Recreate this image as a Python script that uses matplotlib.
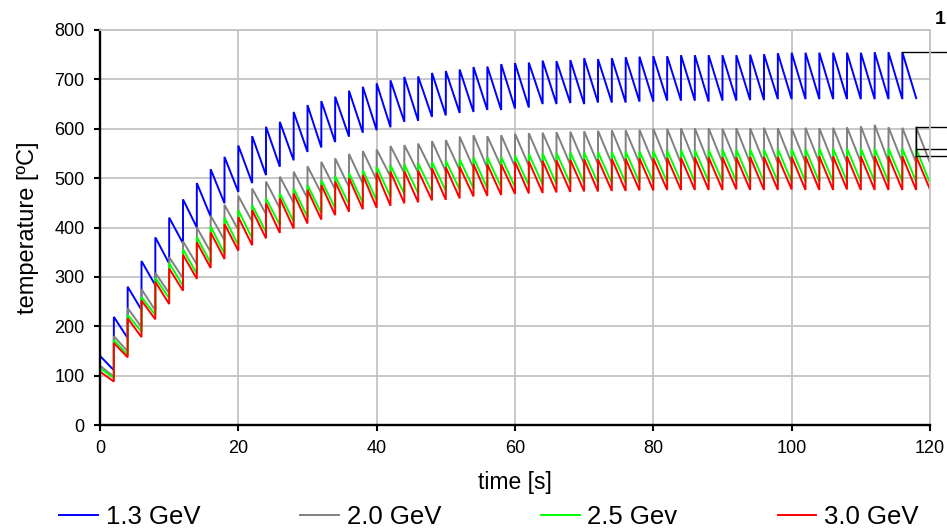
import numpy as np
import matplotlib
matplotlib.use('Agg')
import matplotlib.pyplot as plt

plt.rcParams['font.family'] = ['Liberation Sans', 'DejaVu Sans']

# ---------------- data ----------------
labels = ['1.3 GeV', '2.0 GeV', '2.5 Gev', '3.0 GeV']
colors = ['#0000FF', '#808080', '#00FF00', '#FF0000']

pulse_period = 2.0      # s between beam pulses
start_temp = 25         # °C at t = 0

# peak temperature right after each pulse (t = 0, 2, 4, ...)
blue_peaks = [140, 219, 280, 332, 380, 420, 457, 490, 518, 543,
              566, 585, 604, 614, 634, 648, 656, 665, 677, 685,
              692, 698, 705, 706, 713, 717, 720, 725, 726, 731,
              733, 734, 738, 737, 739, 743, 741, 743, 745, 746,
              747, 747, 749, 749, 749, 749, 749, 750, 751, 753,
              754, 754, 754, 754, 754, 754, 755, 755, 755]
# temperature just before the next pulse
blue_troughs = [111, 176, 233, 283, 327, 368, 400, 422, 449, 472,
                490, 506, 523, 536, 553, 562, 573, 584, 592, 597,
                603, 614, 616, 624, 627, 632, 634, 638, 638, 641,
                643, 650, 650, 652, 650, 653, 653, 653, 655, 655,
                657, 657, 657, 655, 657, 657, 658, 658, 660, 660,
                660, 660, 660, 660, 660, 660, 660, 660, 662]

gray_peaks = [120, 180, 237, 275, 308, 340, 372, 400, 424, 446,
              464, 479, 493, 503, 513, 524, 533, 540, 549, 555,
              558, 565, 567, 570, 575, 577, 584, 587, 585, 587,
              590, 591, 592, 593, 594, 595, 596, 597, 597, 598,
              600, 600, 601, 601, 601, 600, 601, 601, 602, 601,
              601, 602, 601, 602, 603, 605, 608, 603, 602, 603]
gray_troughs = [98, 149, 198, 232, 267, 297, 325, 350, 374, 395,
                412, 427, 439, 450, 459, 469, 477, 482, 489, 496,
                503, 510, 511, 513, 513, 516, 520, 520, 523, 523,
                525, 526, 527, 527, 528, 528, 529, 529, 530, 530,
                530, 530, 531, 530, 531, 531, 530, 531, 531, 530,
                531, 531, 530, 531, 532, 532, 533, 532, 531, 531]

green_peaks = [115, 172, 223, 259, 298, 328, 356, 381, 402, 420,
               435, 445, 459, 469, 479, 486, 496, 504, 510, 516,
               523, 526, 528, 530, 533, 535, 538, 542, 542, 543,
               546, 549, 550, 551, 552, 552, 553, 553, 554, 554,
               555, 556, 557, 557, 557, 558, 558, 558, 558, 559,
               559, 559, 560, 560, 560, 560, 560, 560, 560, 560]
green_troughs = [95, 142, 189, 223, 257, 282, 306, 328, 347, 364,
                 378, 391, 405, 412, 421, 429, 439, 447, 450, 455,
                 462, 468, 469, 472, 474, 477, 479, 479, 482, 482,
                 485, 487, 488, 489, 490, 490, 490, 491, 491, 492,
                 492, 492, 492, 493, 493, 493, 492, 493, 493, 493,
                 493, 492, 493, 493, 493, 493, 492, 493, 493, 490]

red_peaks = [108, 166, 216, 252, 290, 317, 345, 370, 390, 407,
             421, 435, 449, 459, 469, 476, 486, 493, 500, 506,
             511, 513, 514, 515, 520, 522, 523, 528, 528, 528,
             533, 534, 535, 536, 537, 538, 538, 539, 539, 540,
             540, 541, 541, 542, 542, 542, 542, 543, 543, 543,
             543, 544, 544, 544, 544, 544, 544, 544, 544, 544]
red_troughs = [88, 137, 178, 214, 245, 272, 296, 318, 336, 353,
               364, 378, 389, 398, 408, 416, 425, 432, 437, 440,
               444, 449, 451, 455, 456, 459, 463, 464, 466, 468,
               469, 470, 471, 472, 473, 473, 474, 474, 475, 475,
               476, 476, 476, 476, 476, 477, 476, 476, 476, 477,
               476, 476, 476, 477, 476, 476, 476, 476, 476, 477]

x_ticks = [0, 20, 40, 60, 80, 100, 120]
y_ticks = [0, 100, 200, 300, 400, 500, 600, 700, 800]

series = [(blue_peaks, blue_troughs), (gray_peaks, gray_troughs),
          (green_peaks, green_troughs), (red_peaks, red_troughs)]


def sawtooth(peaks, troughs):
    t = [0.0]
    y = [start_temp]
    for k, (p, tr) in enumerate(zip(peaks, troughs)):
        t0 = k * pulse_period
        t += [t0, t0 + pulse_period]
        y += [p, tr]
    return np.array(t), np.array(y)


# ---------------- figure ----------------
fig = plt.figure(figsize=(9.47, 5.29), dpi=100)
ax = fig.add_axes([100 / 947, 1 - 425 / 529, 830 / 947, 395 / 529])

lines = []
for (pk, tr), lab, col in zip(series, labels, colors):
    t, y = sawtooth(pk, tr)
    ln, = ax.plot(t, y, color=col, lw=1.4, label=lab, solid_joinstyle='miter')
    lines.append(ln)

ax.set_xlim(0, 120)
ax.set_ylim(0, 800)
ax.set_xticks(x_ticks)
ax.set_yticks(y_ticks)
ax.grid(True, color='#C4C4C4', lw=1.3)
ax.set_axisbelow(True)
for s in ['top', 'right']:
    ax.spines[s].set_color('#C4C4C4')
    ax.spines[s].set_linewidth(1.3)
for s in ['left', 'bottom']:
    ax.spines[s].set_color('black')
    ax.spines[s].set_linewidth(1.7)
ax.tick_params(direction='out', length=4, width=1.5, color='black',
               labelsize=13, pad=7)

ax.set_xlabel('time [s]', fontsize=16.5, labelpad=10)
ax.set_ylabel('temperature [ºC]', fontsize=17, labelpad=11)

# leader lines to the (cut-off) labels on the right
t_end_blue = (len(blue_peaks) - 1) * pulse_period
t_end = (len(gray_peaks) - 1) * pulse_period
ax.plot([t_end_blue, 123], [blue_peaks[-1], blue_peaks[-1]], color='black',
        lw=1.0, clip_on=False)
for pk in (gray_peaks, green_peaks, red_peaks):
    ax.plot([t_end, 123], [pk[-1], pk[-1]], color='black', lw=1.0, clip_on=False)
ax.plot([t_end, t_end], [red_peaks[-1], gray_peaks[-1]], color='black', lw=1.0,
        clip_on=False)
fig.text(935 / 947, 1 - 20 / 529, '1', fontsize=14, fontweight='bold',
         ha='left', va='center')

fig.legend(handles=lines, labels=labels, loc='center', ncol=4,
           bbox_to_anchor=(489 / 947, 1 - 517 / 529), frameon=False,
           fontsize=18.5, handlelength=1.5, handletextpad=0.3,
           columnspacing=3.9, borderpad=0.1)

fig.savefig('out.png', dpi=100)
